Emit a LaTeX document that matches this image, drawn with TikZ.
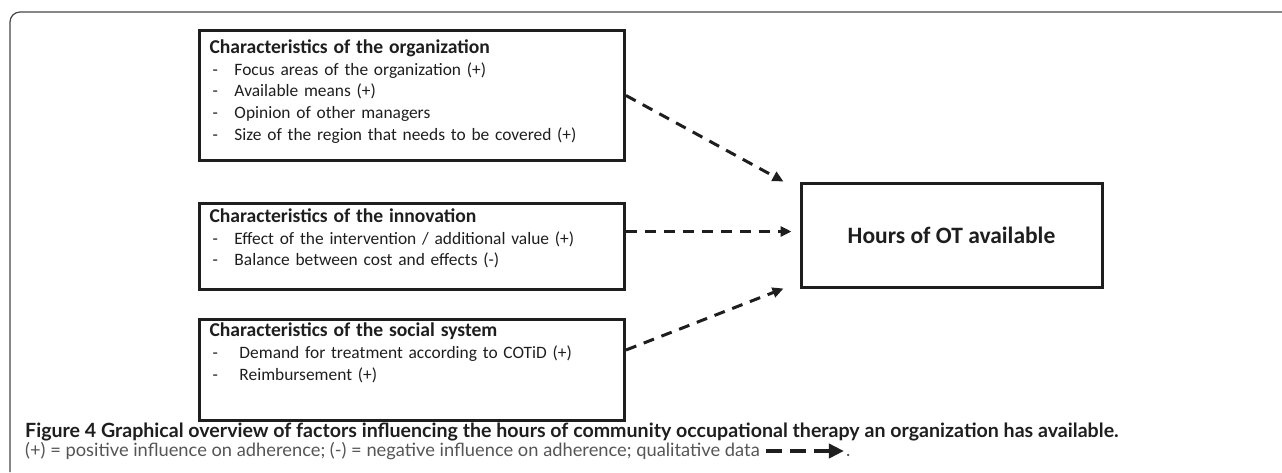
\documentclass[tikz,border=0pt]{standalone}
\usepackage{fontspec}
\setmainfont{Carlito}
\newfontfamily\capfont{Lato}
\definecolor{inkblack}{RGB}{30,30,30}
\definecolor{framegrey}{RGB}{70,70,70}
\definecolor{capgrey}{RGB}{85,85,85}
\tikzset{every picture/.style={/utils/exec={\fontsize{17.4}{21.7}\selectfont}}}
\usetikzlibrary{arrows.meta}
\usetikzlibrary{positioning}

\newcommand{\factortitle}[1]{{\bfseries\fontsize{19.6}{21.7}\selectfont #1}}
\newcommand{\factoritem}[2][25pt]{\makebox[#1][l]{\hspace{3pt}-}#2}

\begin{document}
\begin{tikzpicture}[x=1pt, y=1pt,
    qualitative/.style={draw=inkblack, line width=3pt, dash pattern=on 11pt off 8pt, -{Triangle[length=11pt,width=10pt]}}]
  \useasboundingbox (0,0) rectangle (1282,-472);
  \draw [framegrey, line width=1.2pt, rounded corners=10pt] (10,-472) -- (10,-12) -- (1282,-12);

    \begin{scope}[every node/.style={draw=inkblack, line width=3pt, text=inkblack, align=left, text width=405pt, inner xsep=10pt, inner ysep=0pt}, node distance=40pt]
      \node [anchor=north west, minimum height=130pt] (org) at (198,-29) {\factortitle{Characteristics of the organization}\\
        \factoritem{Focus areas of the organization (+)}\\
        \factoritem{Available means (+)}\\
        \factoritem{Opinion of other managers}\\
        \factoritem{Size of the region that needs to be covered (+)}\par\vspace*{8pt}};
      \node [below=of org, minimum height=86pt] (inno) {\factortitle{Characteristics of the innovation}\\
        \factoritem{Effect of the intervention / additional value (+)}\\
        \factoritem{Balance between cost and effects (-)}\par\vspace*{16pt}};
      \node [below=27pt of inno, minimum height=101pt] (social) {\factortitle{Characteristics of the social system}\\
        \factoritem[30pt]{Demand for treatment according to COTiD (+)}\\
        \factoritem[30pt]{Reimbursement (+)}\par\vspace*{34pt}};
    \end{scope}

    \node [draw=inkblack, line width=3pt, text=inkblack, minimum width=301pt, minimum height=104pt, font=\bfseries\fontsize{23.5}{26}\selectfont] (hours) at (951.5,-235) {Hours of OT available};

    \coordinate (innoout) at ([yshift=15pt]inno.east);
    \coordinate (socialout) at ([yshift=20pt]social.east);
    \draw [qualitative] (org.east) -- ([xshift=-16pt]hours.north west);
    \draw [qualitative, shorten >=8pt] (innoout) -- (innoout -| hours.west);
    \draw [qualitative] (socialout) -- ([xshift=-16pt]hours.south west);

    % caption
    \node [anchor=base west, inner sep=0pt, text=inkblack, font=\capfont\bfseries\fontsize{19.6}{22}\selectfont] (capfig) at (25,-437) {Figure 4 Graphical overview of factors influencing the hours of community occupational therapy an organization has available.};
    \node [anchor=base west, inner sep=0pt, text=capgrey, font=\capfont\fontsize{18.3}{19}\selectfont] (capkey) at (25,-456) {(+) = positive influence on adherence; (-) = negative influence on adherence; qualitative data};
    \coordinate (keystart) at ([xshift=6pt, yshift=5pt]capkey.base east);
    \coordinate (keyend) at ([xshift=78pt]keystart);
    \draw [inkblack, line width=4.5pt, dash pattern=on 16pt off 8pt, -{Triangle[length=15pt,width=14pt]}] (keystart) -- (keyend);
    \node [anchor=base west, inner sep=0pt, text=capgrey, font=\capfont\fontsize{18.3}{19}\selectfont] (keydot) at ([xshift=2pt]keyend |- capkey.base) {.};
\end{tikzpicture}
\end{document}
